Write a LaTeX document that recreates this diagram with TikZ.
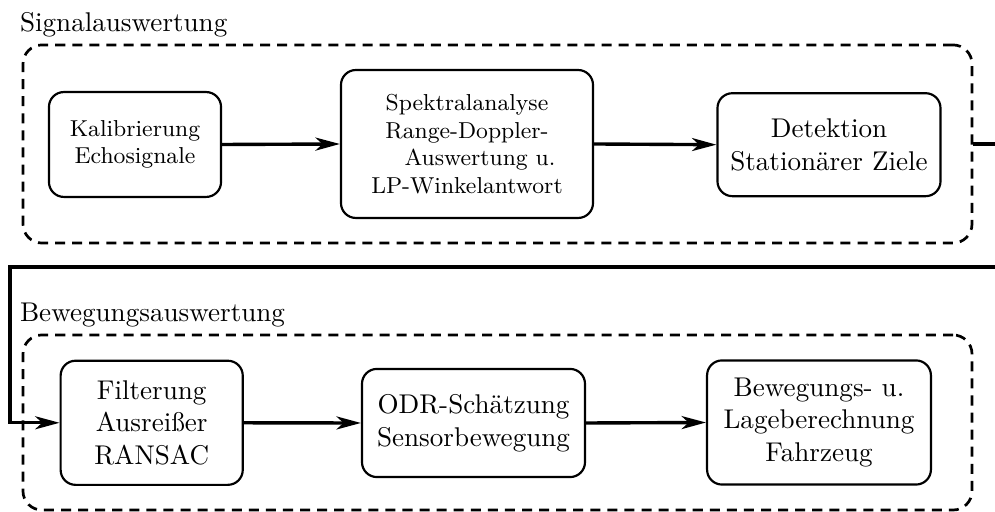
\documentclass[tikz,border=0pt]{standalone}
\usepackage{fontspec}
\usetikzlibrary{arrows.meta}
\begin{document}
\begin{tikzpicture}[x=0.369pt,y=-0.369pt,
  stage/.style={draw, line width=0.8pt, rounded corners=5.5pt, align=center, inner sep=0pt},
  smalltext/.style={font=\fontsize{8.5pt}{10.2pt}\selectfont},
  bigtext/.style={font=\fontsize{10pt}{12pt}\selectfont},
  group/.style={draw, line width=1pt, dash pattern=on 3.7pt off 2.6pt, rounded corners=7pt, inner sep=0pt},
  grouplabel/.style={anchor=base west, inner sep=0pt, font=\fontsize{10pt}{12pt}\selectfont},
  flow/.style={line width=1.25pt, -{Stealth[length=9pt,width=4.8pt,inset=2.6pt]}}
]
\useasboundingbox (0,0) rectangle (995,512);

% group frames and their titles
\node[group, minimum width=350.2pt, minimum height=73.1pt] (sig) at (497.5,144) {};
\node[grouplabel] (siglabel) at (19.5,32) {Signalauswertung};
\node[group, minimum width=350.2pt, minimum height=64.6pt] (bew) at (497.5,422.5) {};
\node[grouplabel] (bewlabel) at (19.5,322) {Bewegungsauswertung};

% signal processing stages
\node[stage, smalltext, minimum width=63.5pt, minimum height=38.7pt] (kal) at (135,144.5)
  {Kalibrierung\\Echosignale};
\node[stage, smalltext, minimum width=93pt, minimum height=54.6pt] (spek) at (467,144)
  {Spektralanalyse\\Range-Doppler-\\\hspace*{9.6pt}Auswertung u.\\LP-Winkelantwort};
\node[stage, bigtext, minimum width=82.3pt, minimum height=38pt] (det) at (829,144.7)
  {Detektion\\Station\"arer Ziele};

% motion estimation stages
\node[stage, bigtext, minimum width=67.2pt, minimum height=45.8pt] (filt) at (151.7,422.8)
  {Filterung\\Ausrei\ss er\\RANSAC};
\node[stage, bigtext, minimum width=82.3pt, minimum height=39.9pt] (odr) at (473.5,423)
  {ODR-Sch\"atzung\\Sensorbewegung};
\node[stage, bigtext, minimum width=82.6pt, minimum height=45.8pt] (lage) at (819,422.5)
  {Bewegungs- u.\\Lageberechnung\\Fahrzeug};

% connectors
\coordinate (turn) at (10,267);
\draw[flow] (kal.east) -- (spek.west);
\draw[flow] (spek.east) -- (det.west);
\draw[flow] (sig.east) -- ++(40,0) |- (turn) |- (filt.west);
\draw[flow] (filt.east) -- (odr.west);
\draw[flow] (odr.east) -- (lage.west);
\end{tikzpicture}
\end{document}
